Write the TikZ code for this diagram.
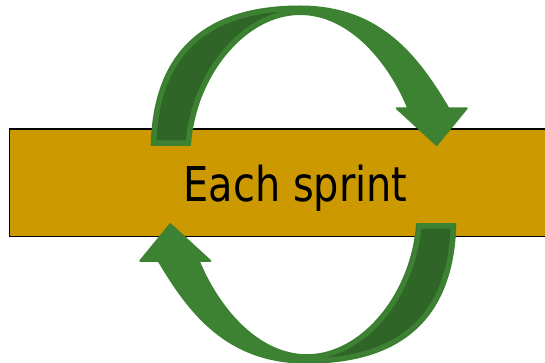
\documentclass[tikz,border=0pt]{standalone}
\usepackage{fontspec}
\newfontfamily\labelfont{DejaVu Sans}[FakeStretch=0.83]
\definecolor{barfill}{HTML}{CC9900}
\definecolor{ribbonlight}{HTML}{3D8232}
\definecolor{ribbondark}{HTML}{2F6627}

% back face of the ribbon: the band from the tail up to the twist
\newcommand\backband{%
  (151.7,145) .. controls (154,55) and (202.1,6.5) .. (300,6.5)
  -- (300,14) .. controls (245,14) and (194.9,75) .. (190,145) -- cycle}

% the full curved arrow outline (tail, arc and head)
\newcommand\arrowoutline{%
  (151.7,145) .. controls (154,55) and (202.1,6.5) .. (300,6.5)
  .. controls (380,6.5) and (417.7,56.7) .. (448.3,108.3)
  -- (466.7,108.3) -- (436.7,145) -- (396.7,108.3) -- (408.3,108.3)
  .. controls (389.3,62) and (350,14) .. (300,14)
  .. controls (245,14) and (194.9,75) .. (190,145) -- cycle}

\tikzset{
  barbox/.style={draw=black, line width=1.5pt, fill=barfill, inner sep=0pt,
    minimum width=572pt, minimum height=107.7pt},
  barlabel/.style={font=\labelfont\fontsize{48}{58}\selectfont, text=black,
    inner sep=0pt},
  ribbonface/.style={fill=ribbonlight, draw=ribbonlight, line width=2pt,
    line join=round},
}

\begin{document}
\begin{tikzpicture}[x=1pt, y=-1pt]
  \clip (0,0) rectangle (545,363);
  \fill[white] (0,0) rectangle (545,363);

  % the sprint bar runs off the right edge
  \node[barbox] (bar) at (295.5,182.85) {};
  \node[barlabel, anchor=base] (label) at (295.5,201.7) {Each sprint};

  % upper arrow, and the same arrow turned half a turn for the lower one
  \foreach \turn in {0,180} {
    \begin{scope}[rotate around={\turn:(303.5,184.6)}]
      \path[ribbonface] \arrowoutline;
      \begin{scope}
        \clip \backband;
        \fill[ribbondark] \backband;
        \draw[ribbonlight, line width=9pt, line join=round] \backband;
      \end{scope}
    \end{scope}
  }
\end{tikzpicture}
\end{document}
